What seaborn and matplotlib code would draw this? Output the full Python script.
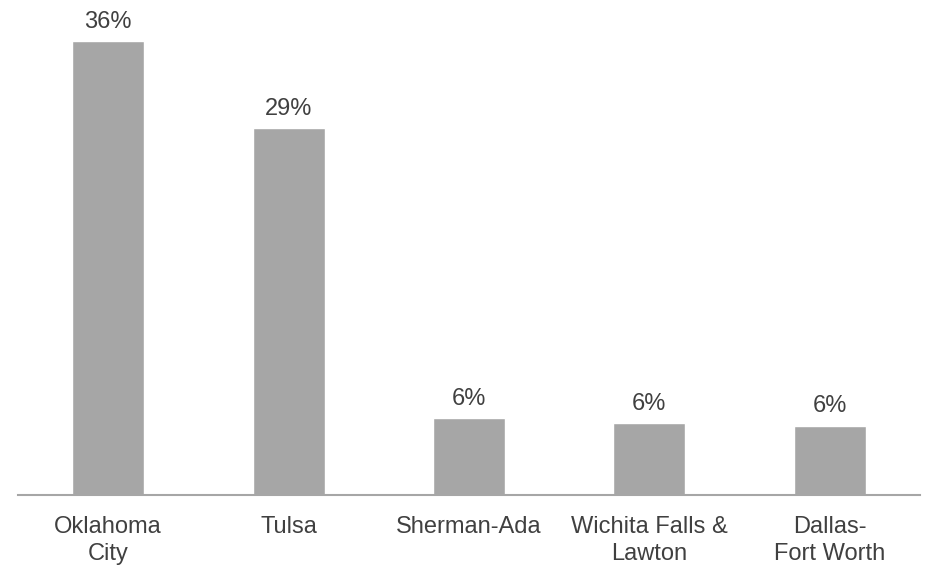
import numpy as np
import pandas as pd
import matplotlib
matplotlib.use('Agg')
import matplotlib.pyplot as plt
import seaborn as sb

regions = ['Oklahoma\nCity', 'Tulsa', 'Sherman-Ada', 'Wichita Falls &\nLawton', 'Dallas-\nFort Worth']
shares = [36.0, 29.1, 6.1, 5.7, 5.5]
share_labels = ['36%', '29%', '6%', '6%', '6%']

df = pd.DataFrame({'region': regions, 'share': shares})

sb.set_style('white')
plt.rcParams['font.family'] = ['Liberation Sans', 'DejaVu Sans']

fig = plt.figure(figsize=(9.28, 5.65), dpi=100)
ax = fig.add_axes([18 / 928, 70 / 565, 902 / 928, 485 / 565])

sb.barplot(data=df, x='region', y='share', color='#A6A6A6', saturation=1,
           width=0.4, ax=ax)

ax.bar_label(ax.containers[0], labels=share_labels, padding=6,
             fontsize=17, color='#404040')

ax.set_ylim(0, 485 / 12.61)
ax.set_xlim(-0.5, 4.5)
ax.set_xlabel('')
ax.set_ylabel('')
ax.set_yticks([])
ax.tick_params(axis='x', length=0, pad=15, labelsize=17, labelcolor='#404040')
for lbl in ax.get_xticklabels():
    lbl.set_linespacing(1.3)

for side in ['top', 'right', 'left']:
    ax.spines[side].set_visible(False)
ax.spines['bottom'].set_color('#A6A6A6')
ax.spines['bottom'].set_linewidth(1.5)

fig.savefig('out.png', dpi=100, facecolor='white')
